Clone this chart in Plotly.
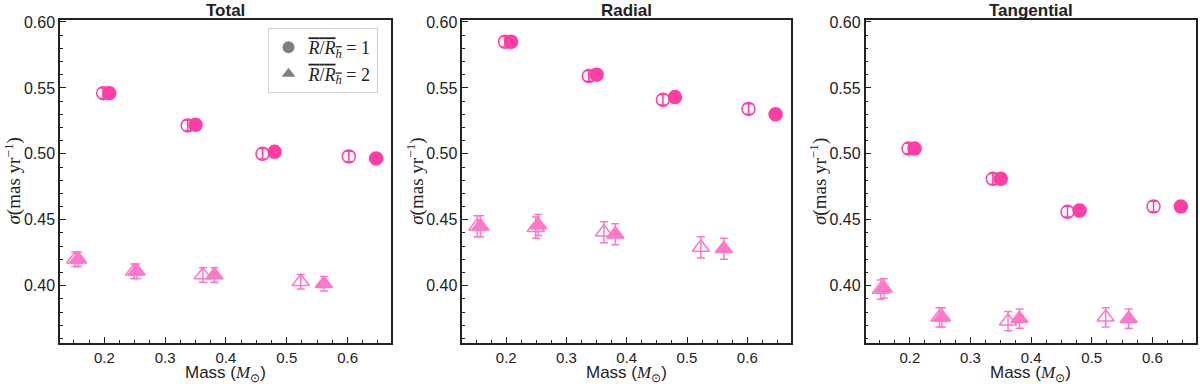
import plotly.graph_objects as go

# ---- data ----
panel_titles = ["Total", "Radial", "Tangential"]

mass_r1_open = [0.198, 0.337, 0.460, 0.602]
mass_r1_fill = [0.208, 0.350, 0.480, 0.647]
mass_r2_open = [0.152, 0.249, 0.362, 0.523]
mass_r2_fill = [0.157, 0.253, 0.381, 0.561]

total_r1_open = [0.546, 0.5215, 0.500, 0.498]
total_r1_fill = [0.546, 0.522, 0.5015, 0.4965]
total_r2_open = [0.420, 0.411, 0.408, 0.403]
total_r2_fill = [0.420, 0.411, 0.408, 0.4015]

radial_r1_open = [0.585, 0.559, 0.541, 0.534]
radial_r1_fill = [0.585, 0.560, 0.543, 0.530]
radial_r2_open = [0.445, 0.444, 0.4405, 0.429]
radial_r2_fill = [0.445, 0.446, 0.439, 0.428]

tang_r1_open = [0.504, 0.481, 0.456, 0.460]
tang_r1_fill = [0.504, 0.481, 0.457, 0.460]
tang_r2_open = [0.397, 0.376, 0.373, 0.376]
tang_r2_fill = [0.398, 0.376, 0.375, 0.375]

err_r1 = [0.004, 0.004, 0.004]
err_r2 = [0.0055, 0.008, 0.0073]

x_ticks = [0.2, 0.3, 0.4, 0.5, 0.6]
x_tick_labels = ["0.2", "0.3", "0.4", "0.5", "0.6"]
y_ticks = [0.40, 0.45, 0.50, 0.55, 0.60]
y_tick_labels = ["0.40", "0.45", "0.50", "0.55", "0.60"]

panels = [
    (total_r1_open, total_r1_fill, total_r2_open, total_r2_fill),
    (radial_r1_open, radial_r1_fill, radial_r2_open, radial_r2_fill),
    (tang_r1_open, tang_r1_fill, tang_r2_open, tang_r2_fill),
]

c_r1 = "#ff3ea5"
c_r2 = "#ff78c8"

domains = [(0.0, 0.2917), (0.3541, 0.6432), (0.7091, 1.0)]

fig = go.Figure()

for i, (r1o, r1f, r2o, r2f) in enumerate(panels):
    xa = "x" if i == 0 else f"x{i+1}"
    ya = "y" if i == 0 else f"y{i+1}"
    e1 = err_r1[i]
    e2 = err_r2[i]
    specs = [
        (mass_r2_open, r2o, "triangle-up-open", c_r2, e2, 15),
        (mass_r2_fill, r2f, "triangle-up", c_r2, e2, 15),
        (mass_r1_open, r1o, "circle-open", c_r1, e1, 13),
        (mass_r1_fill, r1f, "circle", c_r1, e1, 13),
    ]
    for xs, ys, sym, col, err, sz in specs:
        fig.add_trace(go.Scatter(
            x=xs, y=ys, mode="markers", xaxis=xa, yaxis=ya, showlegend=False,
            marker=dict(symbol=sym, color=col, size=sz,
                        line=dict(color=col, width=1.5)),
            error_y=dict(type="constant", value=err, color=col,
                         thickness=1.5, width=4),
        ))

# legend entries
leg_label = "<span style='text-decoration:overline'><i>R</i>/<i>R<sub>h</sub></i></span> = {}"
fig.add_trace(go.Scatter(
    x=[None], y=[None], mode="markers", xaxis="x", yaxis="y",
    marker=dict(symbol="circle", color="#808080", size=13),
    name=leg_label.format(1)))
fig.add_trace(go.Scatter(
    x=[None], y=[None], mode="markers", xaxis="x", yaxis="y",
    marker=dict(symbol="triangle-up", color="#808080", size=13),
    name=leg_label.format(2)))

layout = dict(
    width=1200, height=384,
    margin=dict(l=60, r=2, t=20, b=41),
    plot_bgcolor="white", paper_bgcolor="white",
    font=dict(family="Liberation Sans, Arial, sans-serif", size=16, color="#222"),
    legend=dict(x=0.2795, y=0.975, xanchor="right", yanchor="top",
                bgcolor="white", bordercolor="#d0d0d0", borderwidth=1,
                font=dict(family="Liberation Serif, serif", size=18, color="#222"),
                itemsizing="constant"),
    annotations=[],
)

ytitle = "<i>σ</i>(mas yr<sup>−1</sup>)"
xtitle = "Mass (<span style='font-family:Liberation Serif'><i>M</i><sub>⊙</sub></span>)"

for i in range(3):
    xk = "xaxis" if i == 0 else f"xaxis{i+1}"
    yk = "yaxis" if i == 0 else f"yaxis{i+1}"
    xa_anchor = "y" if i == 0 else f"y{i+1}"
    ya_anchor = "x" if i == 0 else f"x{i+1}"
    layout[xk] = dict(
        domain=list(domains[i]), anchor=xa_anchor, range=[0.127, 0.672],
        tickvals=x_ticks, ticktext=x_tick_labels, tickfont=dict(size=15),
        ticks="inside", ticklen=6, tickwidth=1.2, tickcolor="#222",
        minor=dict(ticks="inside", dtick=0.025, tick0=0, ticklen=3, tickcolor="#222"),
        showline=True, linecolor="#222", linewidth=1.5, mirror=True,
        showgrid=False, zeroline=False,
    )
    layout[yk] = dict(
        domain=[0, 1], anchor=ya_anchor, range=[0.3565, 0.6015],
        tickvals=y_ticks, ticktext=y_tick_labels,
        ticks="inside", ticklen=6, tickwidth=1.2, tickcolor="#222",
        minor=dict(ticks="inside", dtick=0.01, tick0=0, ticklen=3, tickcolor="#222"),
        showline=True, linecolor="#222", linewidth=1.5, mirror=True,
        showgrid=False, zeroline=False,
    )
    d0, d1 = domains[i]
    layout["annotations"].append(dict(
        text=f"<b>{panel_titles[i]}</b>", x=(d0 + d1) / 2, y=1.0,
        xref="paper", yref="paper", xanchor="center", yanchor="bottom",
        yshift=-1, borderpad=0, showarrow=False,
        font=dict(family="Liberation Sans, Arial, sans-serif", size=17, color="#222")))
    layout["annotations"].append(dict(
        text=xtitle, x=(d0 + d1) / 2, y=0, xref="paper", yref="paper",
        xanchor="center", yanchor="middle", yshift=-31, borderpad=0, showarrow=False,
        font=dict(family="Liberation Sans, Arial, sans-serif", size=17, color="#222")))
    layout["annotations"].append(dict(
        text=ytitle, x=d0, y=0.5, xref="paper", yref="paper", textangle=-90,
        xanchor="center", yanchor="middle", xshift=-47, showarrow=False,
        font=dict(family="Liberation Serif, serif", size=19, color="#222")))

fig.update_layout(**layout)
fig.write_html("out.html", config={"displayModeBar": False},
               post_script="document.body.style.margin='0';document.body.style.overflow='hidden';")
